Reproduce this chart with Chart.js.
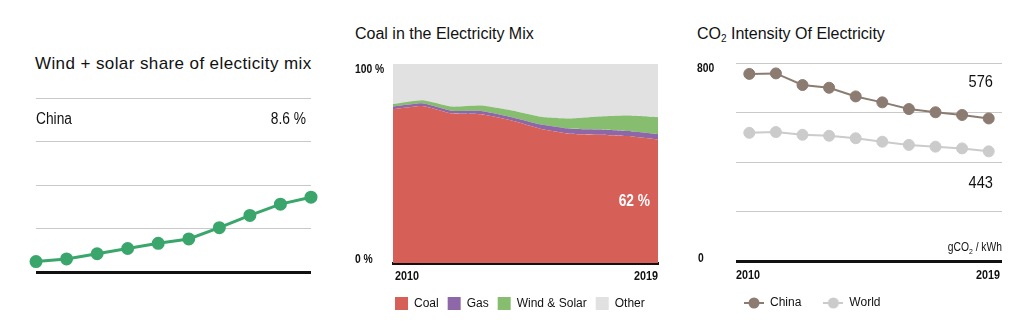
<!DOCTYPE html>
<html>
<head>
<meta charset="utf-8">
<script src="https://cdn.jsdelivr.net/npm/chart.js@4"></script>
<style>
  body { margin: 0; background: #fff; width: 1021px; height: 332px; position: relative; overflow: hidden; }
  .titulo { position: absolute; font-family: 'Liberation Sans', Arial, sans-serif; color: #111; white-space: nowrap; line-height: 20px; }
  .titulo sub { font-size: 10px; vertical-align: -3px; }
  canvas { position: absolute; top: 0; }
</style>
</head>
<body>
<div class="titulo" style="left:35px; top:54px; font-size:17px; letter-spacing:0.4px;">Wind + solar share of electicity mix</div>
<div class="titulo" style="left:355px; top:24px; font-size:16px;">Coal in the Electricity Mix</div>
<div class="titulo" style="left:697px; top:24px; font-size:16px;">CO<sub>2</sub> Intensity Of Electricity</div>

<canvas id="graficoEolicaSolar" width="340" height="332" style="left:0px"></canvas>
<canvas id="graficoMix" width="340" height="332" style="left:340px"></canvas>
<canvas id="graficoIntensidad" width="331" height="332" style="left:690px"></canvas>

<script>
// años de las series
const anios = ['2010', '2011', '2012', '2013', '2014', '2015', '2016', '2017', '2018', '2019'];

// participación eólica + solar en China (%)
const eolicaSolarChina = [1.2, 1.5, 2.1, 2.7, 3.3, 3.8, 5.1, 6.5, 7.8, 8.6];

// mix eléctrico de China (%)
const carbon = [77.3, 78.9, 75.1, 74.7, 71.7, 67.5, 65.0, 64.5, 63.8, 62];
const gas = [1.4, 1.4, 1.4, 1.7, 1.7, 2.2, 2.5, 2.6, 2.5, 2.7];
const otros = [20.1, 18.2, 21.4, 20.9, 23.3, 26.5, 27.4, 26.4, 25.9, 26.7];

// intensidad de CO2 (gCO2/kWh)
const intensidadChina = [756, 758, 711, 700, 665, 641, 614, 601, 590, 576];
const intensidadMundo = [518, 521, 510, 506, 496, 482, 469, 462, 455, 443];

// etiquetas de los ejes
const ejeMix = ['0 %', '100 %'];
const ejeIntensidad = ['0', '800'];
const unidadIntensidad = ['gCO', '2', ' / kWh'];

const FUENTE = "'Liberation Sans', Arial, sans-serif";
Chart.defaults.font.family = FUENTE;
Chart.defaults.color = '#111';

const verde = '#3aa66b';
const colorCarbon = '#d65f57';
const colorGas = '#8e67a8';
const colorEolica = '#86bd6e';
const colorOtros = '#e1e1e1';
const colorChina = '#8c7b70';
const colorMundo = '#cbcbcb';

// texto estrechado a lo ancho (imita una fuente condensada)
function texto(ctx, str, x, y, font, color, align, k) {
  ctx.save();
  ctx.translate(x, y);
  ctx.scale(k || 0.86, 1);
  ctx.font = font;
  ctx.fillStyle = color || '#111';
  ctx.textAlign = align || 'left';
  ctx.textBaseline = 'middle';
  ctx.fillText(str, 0, 0);
  ctx.restore();
}

function anchoTexto(ctx, str, font, k) {
  ctx.save();
  ctx.font = font;
  const w = ctx.measureText(str).width * (k || 0.86);
  ctx.restore();
  return w;
}

// línea negra de base o gris para el resto de la rejilla
const colorRejilla = c => c.tick.value === 0 ? '#111' : '#c9c9c9';
const anchoRejilla = c => c.tick.value === 0 ? 3 : 1;

// ---------- Eólica + solar ----------
new Chart(document.getElementById('graficoEolicaSolar'), {
  type: 'line',
  data: {
    labels: anios,
    datasets: [{
      data: eolicaSolarChina,
      borderColor: verde,
      backgroundColor: verde,
      borderWidth: 3,
      pointRadius: 5,
      pointHoverRadius: 5,
      tension: 0,
      clip: false
    }]
  },
  options: {
    responsive: false,
    animation: false,
    layout: { padding: { left: 36, right: 29, top: 98, bottom: 60 } },
    plugins: { legend: { display: false }, tooltip: { enabled: false } },
    scales: {
      x: { display: false, offset: false },
      y: {
        min: 0, max: 20,
        ticks: { display: false, stepSize: 5 },
        border: { display: false },
        grid: { drawTicks: false, color: colorRejilla, lineWidth: anchoRejilla }
      }
    }
  },
  plugins: [{
    id: 'textosEolica',
    afterDraw(chart) {
      const { ctx, chartArea, scales } = chart;
      const y = scales.y.getPixelForValue(17.5);
      texto(ctx, 'China', chartArea.left, y, '16px ' + FUENTE);
      const ultimo = eolicaSolarChina[eolicaSolarChina.length - 1];
      texto(ctx, ultimo.toFixed(1) + ' %', chartArea.right - 5, y, '16px ' + FUENTE, '#111', 'right');
    }
  }]
});

// ---------- Carbón en el mix ----------
new Chart(document.getElementById('graficoMix'), {
  type: 'line',
  data: {
    labels: anios,
    datasets: [
      { label: 'Coal', data: carbon, backgroundColor: colorCarbon, fill: 'origin' },
      { label: 'Gas', data: gas, backgroundColor: colorGas, fill: '-1' },
      { label: 'Wind & Solar', data: eolicaSolarChina, backgroundColor: colorEolica, fill: '-1' },
      { label: 'Other', data: otros, backgroundColor: colorOtros, fill: '-1' }
    ]
  },
  options: {
    responsive: false,
    animation: false,
    layout: { padding: { left: 46, right: 22, top: 64, bottom: 12 } },
    elements: { line: { borderWidth: 0, tension: 0.15 }, point: { radius: 0, hoverRadius: 0 } },
    plugins: {
      tooltip: { enabled: false },
      legend: {
        position: 'bottom',
        align: 'start',
        labels: { boxWidth: 13, boxHeight: 13, padding: 9, font: { size: 12 }, color: '#111' }
      }
    },
    scales: {
      x: {
        offset: false,
        ticks: { display: false },
        grid: { display: false },
        border: { color: '#111', width: 3 },
        afterFit: s => { s.height = 25; }
      },
      y: {
        stacked: true,
        min: 0, max: 100,
        ticks: { display: false },
        grid: { display: false },
        border: { display: false },
        afterFit: s => { s.width = 7; }
      }
    }
  },
  plugins: [{
    id: 'textosMix',
    afterDraw(chart) {
      const { ctx, chartArea, scales } = chart;
      const f = 'bold 12px ' + FUENTE;
      texto(ctx, ejeMix[1], chartArea.left - 38, scales.y.getPixelForValue(100) + 5.5, f);
      texto(ctx, ejeMix[0], chartArea.left - 38, scales.y.getPixelForValue(0) - 3, f);
      texto(ctx, anios[0], chartArea.left + 2, chartArea.bottom + 14, f, '#111', 'left', 0.9);
      texto(ctx, anios[anios.length - 1], chartArea.right, chartArea.bottom + 14, f, '#111', 'right', 0.9);
      const ultimo = carbon[carbon.length - 1];
      texto(ctx, ultimo + ' %', chartArea.right - 8, scales.y.getPixelForValue(ultimo / 2),
        'bold 16px ' + FUENTE, '#fff', 'right');
    }
  }]
});

// ---------- Intensidad de CO2 ----------
function marcadorLeyenda(color) {
  const c = document.createElement('canvas');
  c.width = 20; c.height = 12;
  const g = c.getContext('2d');
  g.strokeStyle = color;
  g.lineWidth = 2;
  g.beginPath(); g.moveTo(0, 6); g.lineTo(20, 6); g.stroke();
  g.fillStyle = color;
  g.beginPath(); g.arc(10, 6, 5.5, 0, Math.PI * 2); g.fill();
  return c;
}

new Chart(document.getElementById('graficoIntensidad'), {
  type: 'line',
  data: {
    labels: anios,
    datasets: [
      { label: 'China', data: intensidadChina, borderColor: colorChina, backgroundColor: colorChina },
      { label: 'World', data: intensidadMundo, borderColor: colorMundo, backgroundColor: colorMundo }
    ]
  },
  options: {
    responsive: false,
    animation: false,
    layout: { padding: { left: 32, right: 19, top: 63, bottom: 13 } },
    elements: {
      line: { borderWidth: 2, tension: 0 },
      point: { radius: 5.5, hoverRadius: 5.5 }
    },
    plugins: {
      tooltip: { enabled: false },
      legend: {
        position: 'bottom',
        align: 'start',
        labels: {
          usePointStyle: true,
          pointStyleWidth: 20,
          padding: 22,
          font: { size: 12 },
          color: '#111',
          generateLabels(chart) {
            const items = Chart.defaults.plugins.legend.labels.generateLabels(chart);
            items.forEach(it => { it.pointStyle = marcadorLeyenda(chart.data.datasets[it.datasetIndex].borderColor); });
            return items;
          }
        }
      }
    },
    scales: {
      x: {
        offset: true,
        ticks: { display: false },
        grid: { display: false },
        border: { display: false },
        afterFit: s => { s.height = 14; }
      },
      y: {
        min: 0, max: 800,
        ticks: { display: false, stepSize: 200 },
        border: { display: false },
        grid: { drawTicks: false, color: colorRejilla, lineWidth: anchoRejilla },
        afterFit: s => { s.width = 14; }
      }
    }
  },
  plugins: [{
    id: 'textosIntensidad',
    afterDraw(chart) {
      const { ctx, chartArea, scales } = chart;
      const f = 'bold 12px ' + FUENTE;
      texto(ctx, ejeIntensidad[1], chartArea.left - 39, scales.y.getPixelForValue(800) + 5.5, f);
      texto(ctx, ejeIntensidad[0], chartArea.left - 38, scales.y.getPixelForValue(0) - 2.5, f);
      texto(ctx, anios[0], chartArea.left, chartArea.bottom + 14.5, f, '#111', 'left', 0.9);
      texto(ctx, anios[anios.length - 1], chartArea.right - 2, chartArea.bottom + 14.5, f, '#111', 'right', 0.9);

      const grande = '17px ' + FUENTE;
      const n = anios.length - 1;
      texto(ctx, String(intensidadChina[n]), chartArea.right - 9, scales.y.getPixelForValue(intensidadChina[n]) - 36, grande, '#111', 'right');
      texto(ctx, String(intensidadMundo[n]), chartArea.right - 9, scales.y.getPixelForValue(intensidadMundo[n]) + 32, grande, '#111', 'right');

      // unidad con subíndice
      const fu = '12px ' + FUENTE;
      const fs = '8px ' + FUENTE;
      const w1 = anchoTexto(ctx, unidadIntensidad[0], fu);
      const w2 = anchoTexto(ctx, unidadIntensidad[1], fs);
      const w3 = anchoTexto(ctx, unidadIntensidad[2], fu);
      const yU = scales.y.getPixelForValue(0) - 13;
      const x = chartArea.right - (w1 + w2 + w3);
      texto(ctx, unidadIntensidad[0], x, yU, fu);
      texto(ctx, unidadIntensidad[1], x + w1, yU + 4, fs);
      texto(ctx, unidadIntensidad[2], x + w1 + w2, yU, fu);
    }
  }]
});
</script>
</body>
</html>
